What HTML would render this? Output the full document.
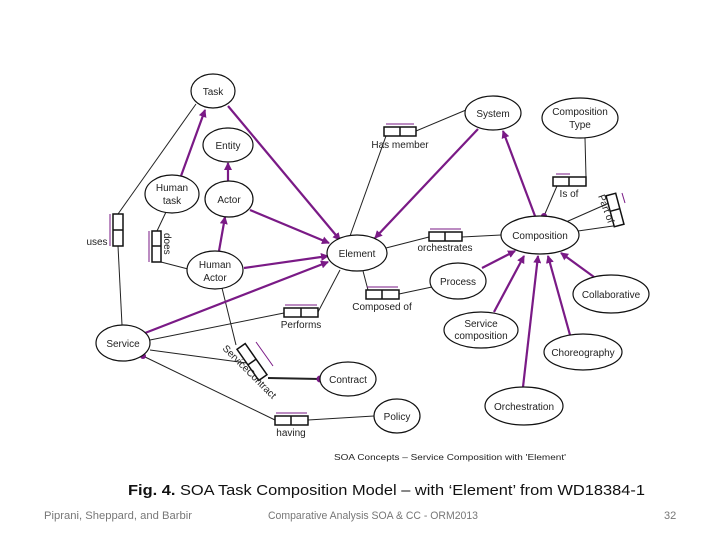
<!DOCTYPE html>
<html><head><meta charset="utf-8"><style>
html,body{margin:0;padding:0;background:#fff;width:720px;height:540px;overflow:hidden}
svg{display:block}
text{font-family:"Liberation Sans",sans-serif}
</style></head><body>
<svg width="720" height="540" viewBox="0 0 720 540" xmlns="http://www.w3.org/2000/svg">
<defs>
<marker id="a" markerWidth="8" markerHeight="8" refX="7" refY="4" orient="auto" markerUnits="userSpaceOnUse" viewBox="0 0 8 8"><path d="M0,0 L8,4 L0,8 z" fill="#7a1a86"/></marker>
</defs>
<g stroke="#222" stroke-width="1" fill="none">
<line x1="196" y1="104" x2="118" y2="214"/><line x1="118" y1="246" x2="122" y2="325"/>
<line x1="166" y1="212" x2="157" y2="231"/><line x1="161" y1="262" x2="188" y2="269"/>
<line x1="466" y1="110" x2="416" y2="131"/><line x1="386" y1="136" x2="350" y2="236"/>
<line x1="585" y1="138" x2="586" y2="177"/><line x1="557" y1="186" x2="544" y2="216"/>
<line x1="566" y1="222" x2="609" y2="203"/><line x1="578" y1="231" x2="620" y2="225"/>
<line x1="386" y1="248" x2="429" y2="237"/><line x1="462" y1="237" x2="501" y2="235"/>
<line x1="363" y1="271" x2="368" y2="290"/><line x1="399" y1="294" x2="432" y2="287"/>
<line x1="150" y1="340" x2="284" y2="313"/><line x1="318" y1="312" x2="340" y2="270"/>
<line x1="222" y1="288" x2="236" y2="345"/><line x1="150" y1="350" x2="254" y2="364"/><line x1="268" y1="378" x2="320" y2="379" stroke-width="2"/>
<line x1="143" y1="356" x2="275" y2="420"/><line x1="308" y1="420" x2="374" y2="416"/>
</g>
<g stroke="#111" stroke-width="1.5" fill="#fff">
<rect x="113" y="214" width="10" height="32"/><line x1="113" y1="230" x2="123" y2="230"/>
<rect x="152" y="231" width="9" height="31"/><line x1="152" y1="246" x2="161" y2="246"/>
<rect x="384" y="127" width="32" height="9"/><line x1="400" y1="127" x2="400" y2="136"/>
<rect x="553" y="177" width="33" height="9"/><line x1="569" y1="177" x2="569" y2="186"/>
<g transform="translate(615,210) rotate(-15)"><rect x="-5" y="-16" width="10" height="32"/><line x1="-5" y1="0" x2="5" y2="0"/></g>
<rect x="429" y="232" width="33" height="9"/><line x1="445" y1="232" x2="445" y2="241"/>
<rect x="366" y="290" width="33" height="9"/><line x1="382" y1="290" x2="382" y2="299"/>
<rect x="284" y="308" width="34" height="9"/><line x1="301" y1="308" x2="301" y2="317"/>
<g transform="translate(252,362) rotate(-35)"><rect x="-5" y="-19" width="10" height="38"/><line x1="-5" y1="0" x2="5" y2="0"/></g>
<rect x="275" y="416" width="33" height="9"/><line x1="291" y1="416" x2="291" y2="425"/>
</g>
<g stroke="#7a1a86" stroke-width="1">
<line x1="110" y1="214" x2="110" y2="246"/>
<line x1="149" y1="231" x2="149" y2="262"/>
<line x1="386" y1="124" x2="414" y2="124"/>
<line x1="556" y1="174" x2="570" y2="174"/>
<line x1="622" y1="193" x2="625" y2="203"/>
<line x1="430" y1="229" x2="461" y2="229"/>
<line x1="367" y1="287" x2="398" y2="287"/>
<line x1="285" y1="305" x2="317" y2="305"/>
<line x1="256" y1="342" x2="273" y2="366"/>
<line x1="276" y1="413" x2="307" y2="413"/>
</g>
<g stroke="#7a1a86" stroke-width="2.2" marker-end="url(#a)">
<line x1="181" y1="176" x2="205" y2="110"/>
<line x1="228" y1="106" x2="340" y2="240"/>
<line x1="228" y1="181" x2="228" y2="163"/>
<line x1="250" y1="210" x2="329" y2="243"/>
<line x1="219" y1="251" x2="225" y2="217"/>
<line x1="244" y1="268" x2="328" y2="256"/>
<line x1="145" y1="333" x2="328" y2="262"/>
<line x1="478" y1="129" x2="375" y2="238"/>
<line x1="535" y1="216" x2="503" y2="131"/>
<line x1="482" y1="268" x2="515" y2="251"/>
<line x1="494" y1="312" x2="524" y2="256"/>
<line x1="523" y1="387" x2="538" y2="256"/>
<line x1="570" y1="335" x2="548" y2="256"/>
<line x1="594" y1="277" x2="561" y2="253"/>
</g>
<g fill="#7a1a86"><circle cx="544" cy="216" r="3"/><circle cx="320" cy="379" r="3.5"/><circle cx="143" cy="356" r="3"/></g>
<g stroke="#111" stroke-width="1.2" fill="#fff">
<ellipse cx="213" cy="91" rx="22" ry="17"/>
<ellipse cx="228" cy="145" rx="25" ry="17"/>
<ellipse cx="172" cy="194" rx="27" ry="19"/>
<ellipse cx="229" cy="199" rx="24" ry="18"/>
<ellipse cx="357" cy="253" rx="30" ry="18"/>
<ellipse cx="215" cy="270" rx="28" ry="19"/>
<ellipse cx="123" cy="343" rx="27" ry="18"/>
<ellipse cx="493" cy="113" rx="28" ry="17"/>
<ellipse cx="580" cy="118" rx="38" ry="20"/>
<ellipse cx="540" cy="235" rx="39" ry="19"/>
<ellipse cx="458" cy="281" rx="28" ry="18"/>
<ellipse cx="611" cy="294" rx="38" ry="19"/>
<ellipse cx="481" cy="330" rx="37" ry="18"/>
<ellipse cx="583" cy="352" rx="39" ry="18"/>
<ellipse cx="348" cy="379" rx="28" ry="17"/>
<ellipse cx="524" cy="406" rx="39" ry="19"/>
<ellipse cx="397" cy="416" rx="23" ry="17"/>
</g>
<g font-size="10" fill="#222" text-anchor="middle">
<text x="213" y="95">Task</text>
<text x="228" y="149">Entity</text>
<text x="172" y="191">Human</text><text x="172" y="204">task</text>
<text x="229" y="203">Actor</text>
<text x="357" y="257">Element</text>
<text x="215" y="268">Human</text><text x="215" y="281">Actor</text>
<text x="123" y="347">Service</text>
<text x="493" y="117">System</text>
<text x="580" y="115">Composition</text><text x="580" y="128">Type</text>
<text x="540" y="239">Composition</text>
<text x="458" y="285">Process</text>
<text x="611" y="298">Collaborative</text>
<text x="481" y="327">Service</text><text x="481" y="339">composition</text>
<text x="583" y="356">Choreography</text>
<text x="348" y="383">Contract</text>
<text x="524" y="410">Orchestration</text>
<text x="397" y="420">Policy</text>
<text x="400" y="148">Has member</text>
<text x="569" y="197">Is of</text>
<text x="445" y="251">orchestrates</text>
<text x="382" y="310">Composed of</text>
<text x="301" y="328">Performs</text>
<text x="291" y="436">having</text>
<text x="97" y="245">uses</text>
</g>
<g font-size="10" fill="#222">
<text transform="translate(164,233) rotate(90)">does</text>
<text transform="translate(598,196) rotate(70)">Part of</text>
<text transform="translate(222,349) rotate(45)">ServiceContract</text>
<text x="334" y="460" font-size="8.5" textLength="232" lengthAdjust="spacingAndGlyphs">SOA Concepts – Service Composition with 'Element'</text>
</g>
<text x="128" y="495" font-size="15" fill="#111" textLength="517" lengthAdjust="spacingAndGlyphs"><tspan font-weight="bold">Fig. 4.</tspan> SOA Task Composition Model – with ‘Element’ from WD18384-1</text>
<g font-size="11" fill="#777">
<text x="44" y="519" textLength="148" lengthAdjust="spacingAndGlyphs">Piprani, Sheppard, and Barbir</text>
<text x="268" y="519" textLength="210" lengthAdjust="spacingAndGlyphs">Comparative Analysis SOA &amp; CC - ORM2013</text>
<text x="664" y="519">32</text>
</g>
</svg>
</body></html>
